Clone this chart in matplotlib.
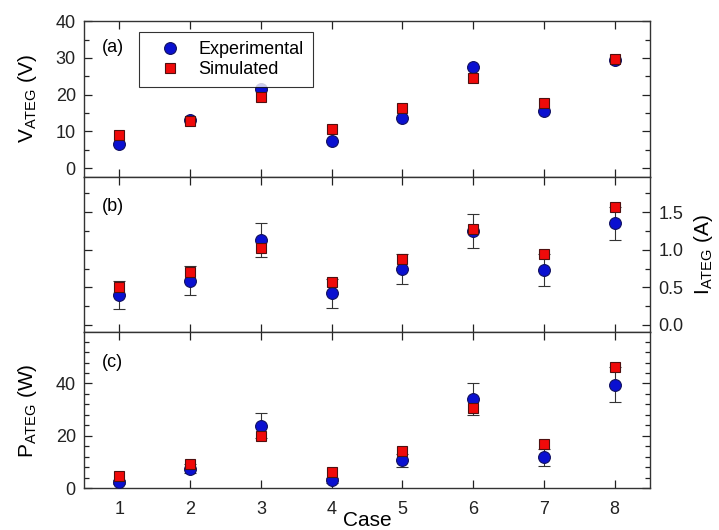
import matplotlib.pyplot as plt
from matplotlib.ticker import MultipleLocator

plt.rcParams['font.family'] = ['Liberation Sans', 'DejaVu Sans']

# Data
cases = [1, 2, 3, 4, 5, 6, 7, 8]

v_exp = [6.5, 13.0, 21.5, 7.4, 13.6, 27.4, 15.5, 29.4]
v_sim = [9.1, 12.8, 19.4, 10.5, 16.3, 24.4, 17.8, 29.7]

i_exp = [0.40, 0.59, 1.13, 0.42, 0.75, 1.25, 0.73, 1.35]
i_err = [0.19, 0.19, 0.22, 0.19, 0.20, 0.23, 0.21, 0.22]
i_sim = [0.50, 0.71, 1.03, 0.57, 0.88, 1.28, 0.94, 1.57]

p_exp = [2.2, 7.5, 23.9, 3.0, 10.7, 34.2, 11.8, 39.6]
p_err = [0.8, 1.6, 4.7, 1.0, 2.5, 6.1, 3.2, 6.6]
p_sim = [4.8, 9.4, 20.0, 6.3, 14.3, 30.8, 17.0, 46.2]

blue = '#0a10d0'
red = '#f00a0a'

fig, (ax1, ax2, ax3) = plt.subplots(3, 1, figsize=(7.19, 5.30), dpi=100, sharex=True)
fig.subplots_adjust(left=0.117, right=0.904, top=0.960, bottom=0.079, hspace=0)

circ = dict(marker='o', ms=8.5, color=blue, mec='#101060', mew=0.8, ls='none', zorder=3)
sq = dict(marker='s', ms=7.5, color=red, mec='#501010', mew=0.8, ls='none', zorder=4)
ebar = dict(ecolor='#333333', elinewidth=0.8, capsize=4, capthick=0.8)

# (a) voltage
ax1.plot(cases, v_exp, label='Experimental', **circ)
ax1.plot(cases, v_sim, label='Simulated', **sq)
ax1.set_ylim(-2.4, 40)
ax1.yaxis.set_major_locator(MultipleLocator(10))
ax1.yaxis.set_minor_locator(MultipleLocator(5))
ax1.set_ylabel('V$_{\\mathregular{ATEG}}$ (V)', fontsize=15, labelpad=12)
leg = ax1.legend(loc='upper left', bbox_to_anchor=(0.097, 0.93), borderaxespad=0,
                 fontsize=13, frameon=True, fancybox=False, edgecolor='black',
                 handletextpad=0.4, borderpad=0.5, labelspacing=0.15, handlelength=2.4)
leg.get_frame().set_linewidth(0.8)
ax1.text(0.032, 0.83, '(a)', transform=ax1.transAxes, fontsize=13, va='center')

# (b) current
ax2.errorbar(cases, i_exp, yerr=i_err, fmt='none', zorder=2, **ebar)
ax2.plot(cases, i_exp, **circ)
ax2.plot(cases, i_sim, **sq)
ax2.set_ylim(-0.1, 1.97)
ax2.yaxis.set_major_locator(MultipleLocator(0.5))
ax2.yaxis.set_minor_locator(MultipleLocator(0.25))
ax2.yaxis.set_label_position('right')
ax2.set_ylabel('I$_{\\mathregular{ATEG}}$ (A)', fontsize=15, labelpad=6)
ax2.text(0.032, 0.81, '(b)', transform=ax2.transAxes, fontsize=13, va='center')

# (c) power
ax3.errorbar(cases, p_exp, yerr=p_err, fmt='none', zorder=2, **ebar)
ax3.plot(cases, p_exp, **circ)
ax3.plot(cases, p_sim, **sq)
ax3.set_ylim(0, 59.5)
ax3.yaxis.set_major_locator(MultipleLocator(20))
ax3.yaxis.set_minor_locator(MultipleLocator(4))
ax3.set_ylabel('P$_{\\mathregular{ATEG}}$ (W)', fontsize=15, labelpad=12)
ax3.text(0.032, 0.81, '(c)', transform=ax3.transAxes, fontsize=13, va='center')

ax3.set_xlim(0.5, 8.5)
ax3.set_xticks(cases)
ax3.set_xlabel('Case', fontsize=15, labelpad=-5)

for ax in (ax1, ax2, ax3):
    for s in ax.spines.values():
        s.set_linewidth(1.0)
        s.set_color('#333333')
    ax.tick_params(which='both', direction='in', top=True, right=True, labelsize=13,
                   colors='#222222', pad=6)
    ax.tick_params(which='major', length=6, width=0.9)
    ax.tick_params(which='minor', length=3.5, width=0.9)
    ax.tick_params(axis='x', which='minor', bottom=False, top=False)

ax3.tick_params(axis='x', pad=9)
ax2.tick_params(axis='y', labelleft=False, labelright=True, pad=6)

plt.savefig('out.png', dpi=100)
